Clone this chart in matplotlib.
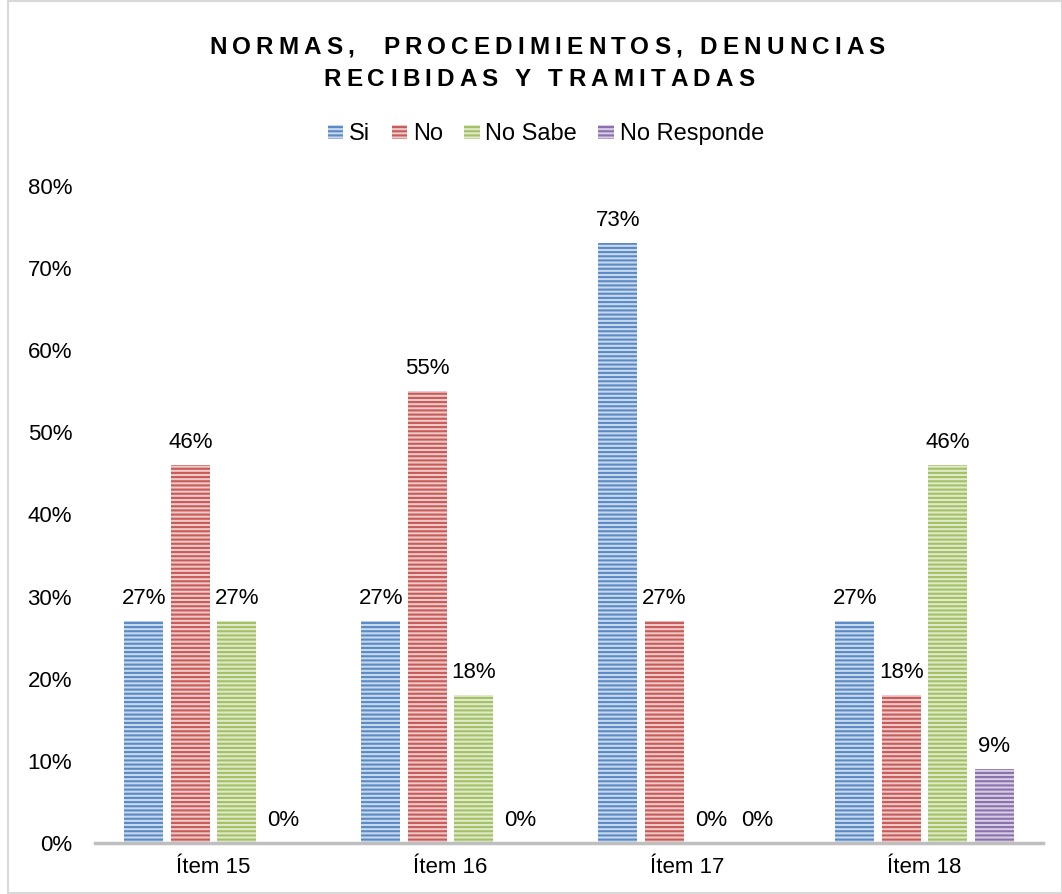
import matplotlib.pyplot as plt
import numpy as np
from matplotlib.patches import Patch, Rectangle

plt.rcParams['font.family'] = ['Liberation Sans', 'DejaVu Sans']
plt.rcParams['hatch.linewidth'] = 1.5

# Datos de la encuesta (porcentaje)
items = ['Ítem 15', 'Ítem 16', 'Ítem 17', 'Ítem 18']
series = ['Si', 'No', 'No Sabe', 'No Responde']
si = [27, 27, 73, 27]
no = [46, 55, 27, 18]
no_sabe = [27, 18, 0, 46]
no_responde = [0, 0, 0, 9]
valores = [si, no, no_sabe, no_responde]

oscuros = ['#5A8AC6', '#C85A57', '#A3C164', '#8A70AC']
claros = ['#C9D9EC', '#EDCAC9', '#DFEACA', '#D6CDE3']
rayado = '----'

fig = plt.figure(figsize=(10.62, 8.94), dpi=100)
ax = fig.add_axes([95 / 1062, 51 / 894, 948 / 1062, 657 / 894])

x = np.arange(len(items))
paso = 0.196
ancho = 0.165
for i, (vals, osc, cla) in enumerate(zip(valores, oscuros, claros)):
    pos = x + (i - 1.5) * paso
    ax.bar(pos, vals, width=ancho, color=cla, edgecolor=osc, hatch=rayado, linewidth=0)
    for p, v in zip(pos, vals):
        ax.text(p, v + 1.5, f'{v}%', ha='center', va='bottom', fontsize=16)

ax.set_xlim(-0.5, len(items) - 0.5)
ax.set_ylim(0, 80)
ax.set_yticks(range(0, 81, 10))
ax.set_yticklabels([f'{t}%' for t in range(0, 81, 10)])
ax.set_xticks(x)
ax.set_xticklabels(items)
ax.tick_params(axis='both', length=0, labelsize=16)
ax.tick_params(axis='y', pad=16.5)
ax.tick_params(axis='x', pad=10)
for lado in ['top', 'right', 'left']:
    ax.spines[lado].set_visible(False)
ax.spines['bottom'].set_color('#BFBFBF')
ax.spines['bottom'].set_linewidth(2.5)

# Leyenda con los mismos rayados
handles = [Patch(facecolor=c, edgecolor=o, hatch='----', linewidth=0)
           for o, c in zip(oscuros, claros)]
fig.legend(handles, series, loc='center', bbox_to_anchor=(546 / 1062, 1 - 134 / 894), ncol=4,
           frameon=False, fontsize=17, handlelength=0.65, handleheight=0.55,
           handletextpad=0.25, columnspacing=0.9)

# Titulo con letras espaciadas
renderer = fig.canvas.get_renderer()
def medir(texto, props):
    anchos = []
    for ch in texto:
        t = fig.text(0, 0, ch if ch != ' ' else 'a', **props)
        w = t.get_window_extent(renderer).width
        if ch == ' ':
            w *= 0.5
        anchos.append(w)
        t.remove()
    return anchos

props = dict(fontsize=17.5, fontweight='bold')
linea1 = 'NORMAS,  PROCEDIMIENTOS, DENUNCIAS'
linea2 = 'RECIBIDAS Y TRAMITADAS'
a1 = medir(linea1, props)
espacio = (676 - sum(a1)) / (len(linea1) - 1)

def titulo_espaciado(texto, y_px, xc=547):
    anchos = medir(texto, props)
    total = sum(anchos) + espacio * (len(texto) - 1)
    xpos = xc - total / 2
    for ch, w in zip(texto, anchos):
        if ch != ' ':
            fig.text(xpos / 1062, 1 - y_px / 894, ch, va='center', ha='left', **props)
        xpos += w + espacio

titulo_espaciado(linea1, 47)
titulo_espaciado(linea2, 80, xc=539)

# Marco del grafico
fig.patches.append(Rectangle((8 / 1062, 0.001), 1 - 8 / 1062, 0.998, transform=fig.transFigure,
                             fill=False, edgecolor='#D9D9D9', linewidth=1.5))

fig.savefig('out.png', dpi=100)
